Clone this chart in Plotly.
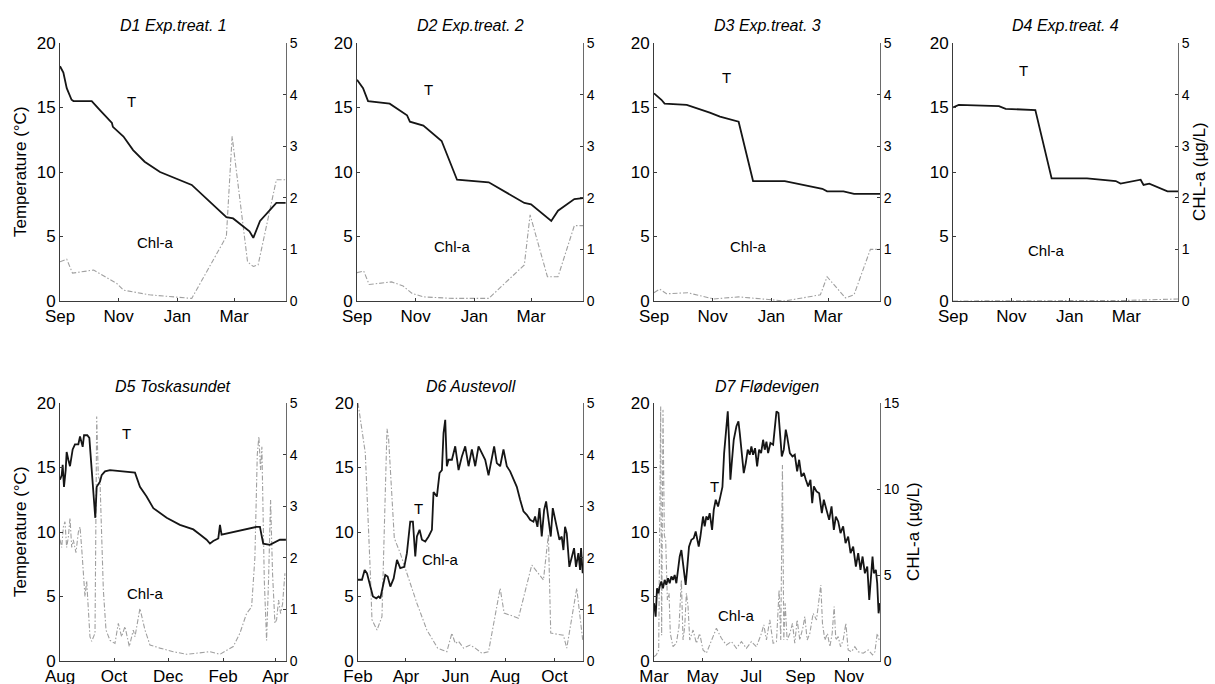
import pandas as pd
import plotly.graph_objects as go

FONT = "Liberation Sans, Arial, sans-serif"

# ---------------- panel metadata ----------------
panel_titles = ["D1 Exp.treat. 1", "D2 Exp.treat. 2", "D3 Exp.treat. 3", "D4 Exp.treat. 4",
                "D5 Toskasundet", "D6 Austevoll", "D7 Flødevigen"]
panel_starts = ["2010-09-01", "2010-09-01", "2010-09-01", "2010-09-01",
                "2010-08-01", "2011-02-01", "2011-03-01"]
panel_spans = [235, 235, 235, 235, 255, 277, 284]          # days shown on x axis
chl_max = [5, 5, 5, 5, 5, 5, 15]
temp_ticks = [0, 5, 10, 15, 20]
label_T_pos = [(74, 15.5), (74, 16.4), (75, 17.3), (74, 17.85), (75, 17.6), (75, 11.85), (76, 13.5)]
label_C_pos = [(99, 4.5), (99, 4.2), (98, 4.2), (98, 3.9), (96, 5.25), (101, 7.9), (104, 3.5)]

# ---------------- data (day offset from panel start, value) ----------------
d1_t_day = [0, 3.5, 7, 12, 14, 33, 41.5, 52, 54, 55, 66, 76, 88, 104, 137, 173, 180, 197, 201, 208, 225, 234.6]
d1_t_val = [18.2, 17.7, 16.5, 15.6, 15.5, 15.5, 14.8, 14.0, 13.8, 13.5, 12.75, 11.7, 10.8, 10.0, 9.0, 6.5, 6.4, 5.4, 4.9, 6.2, 7.6, 7.6]
d1_chl_day = [0, 7, 13, 35, 59, 66, 93, 137, 173, 179, 195, 201, 206, 225, 234.6]
d1_chl_val = [0.76, 0.81, 0.54, 0.60, 0.34, 0.21, 0.12, 0.05, 1.25, 3.19, 0.76, 0.67, 0.70, 2.35, 2.35]

d2_t_day = [0, 6.3, 11.5, 34, 52, 55, 69, 88, 104, 137, 174, 181, 202, 209, 226, 237]
d2_t_val = [17.15, 16.5, 15.5, 15.3, 14.4, 13.9, 13.6, 12.4, 9.4, 9.2, 7.6, 7.5, 6.2, 7.0, 7.9, 8.0]
d2_chl_day = [0, 7, 12.6, 36, 48, 57, 69, 100, 137, 174, 180, 198, 209, 226, 237]
d2_chl_val = [0.55, 0.58, 0.32, 0.37, 0.29, 0.15, 0.08, 0.05, 0.05, 0.70, 1.67, 0.47, 0.47, 1.46, 1.46]

d3_t_day = [0, 7.7, 11, 34, 58, 68.6, 88, 103, 136, 175, 180, 197, 208, 235.6]
d3_t_val = [16.1, 15.6, 15.3, 15.2, 14.6, 14.3, 13.9, 9.3, 9.3, 8.7, 8.5, 8.5, 8.3, 8.3]
d3_chl_day = [0, 6, 13, 35, 62, 88, 125, 136, 173, 180, 199, 208, 225, 235.6]
d3_chl_val = [0.16, 0.23, 0.14, 0.16, 0.04, 0.08, 0.02, 0.0, 0.12, 0.47, 0.06, 0.12, 1.0, 1.0]

d4_t_day = [0, 6, 48, 55, 86, 103, 140, 170, 175, 190, 196, 199, 205, 224, 236]
d4_t_val = [15.0, 15.2, 15.1, 14.9, 14.8, 9.5, 9.5, 9.3, 9.1, 9.3, 9.4, 9.0, 9.1, 8.5, 8.5]
d4_chl_day = [0, 180, 236]
d4_chl_val = [0.0, 0.01, 0.04]

d5_t_day = [0, 1.9, 3.0, 4.5, 6.4, 7.5, 9.4, 11.3, 14.3, 16.9, 20.7, 22.6, 25.6, 27.1, 30.8, 33.1, 34.6,
            36.8, 38.3, 39.8, 41.4, 45.1, 47.0, 50.8, 56.4, 67.7, 84.6, 90.2, 97.7, 105.3, 112.8, 120.3,
            135.3, 142.9, 150.4, 157.9, 165.4, 169.2, 172.9, 178.6, 180.5, 182.3, 195.5, 210.5, 214.3,
            221.8, 225.6, 229.3, 236.8, 248.1, 254.9]
d5_t_val = [14.05, 14.4, 15.2, 13.5, 14.8, 16.2, 15.6, 15.1, 16.4, 16.8, 16.8, 17.4, 16.6, 17.5, 17.5, 17.3,
            15.9, 13.5, 12.2, 11.1, 13.5, 13.9, 14.4, 14.7, 14.8, 14.7, 14.6, 13.5, 12.75, 11.85, 11.5, 11.1,
            10.55, 10.4, 10.2, 9.8, 9.4, 9.1, 9.3, 9.5, 10.55, 9.8, 10.0, 10.2, 10.3, 10.4, 10.4, 9.1, 9.0,
            9.4, 9.4]
d5_chl_day = [0, 1.9, 3.8, 5.6, 7.5, 9.4, 11.3, 13.2, 15.0, 18.0, 20.7, 22.6, 24.4, 26.3, 28.2, 30.1, 32.0,
              33.8, 35.7, 37.6, 39.5, 41.4, 43.2, 45.1, 47.0, 48.9, 51.9, 56.4, 62.0, 65.8, 69.5, 73.3, 78.2,
              82.7, 84.6, 90.2, 95.9, 101.5, 112.8, 127.8, 142.9, 157.9, 169.2, 180.5, 195.5, 203.0, 210.5,
              216.2, 219.9, 222.6, 224.4, 226.3, 227.8, 230.5, 233.1, 235.3, 237.6, 239.8, 242.5, 244.4,
              246.6, 248.9, 251.1, 253.8]
d5_chl_val = [2.35, 2.2, 2.6, 2.7, 2.2, 2.4, 2.77, 2.2, 2.35, 2.1, 2.5, 2.6, 2.2, 1.7, 1.25, 1.55, 1.05,
              0.47, 0.38, 0.47, 0.54, 4.74, 3.58, 3.5, 2.6, 1.38, 0.6, 0.4, 0.34, 0.73, 0.47, 0.67, 0.28,
              0.6, 0.47, 1.02, 0.6, 0.31, 0.25, 0.18, 0.13, 0.16, 0.18, 0.13, 0.28, 0.54, 0.92, 1.05, 2.0,
              4.0, 4.35, 3.7, 4.15, 1.57, 0.4, 1.57, 3.12, 1.7, 0.73, 0.8, 1.18, 0.92, 1.1, 1.7]

d6_t_day = [0, 4.9, 8.2, 11.1, 15.2, 18.4, 22.5, 25.4, 27.5, 29.5, 33.6, 36.5, 39.8, 43.9, 48.0, 52.0, 57.0,
            60.2, 64.3, 67.6, 70.5, 72.5, 75.8, 78.7, 82.8, 86.9, 91.0, 93.0, 97.1, 100.4, 103.3, 105.3,
            107.4, 109.4, 111.5, 115.6, 119.7, 123.8, 127.9, 132.0, 136.1, 140.2, 144.3, 148.4, 152.5,
            156.6, 160.7, 164.8, 167.6, 170.9, 175.0, 179.1, 183.2, 187.3, 191.4, 195.5, 199.6, 203.7,
            207.8, 211.9, 216.0, 218.0, 220.9, 223.4, 226.2, 229.1, 231.6, 234.4, 237.3, 239.8, 242.6,
            244.7, 248.0, 250.8, 252.9, 254.9, 257.0, 260.2, 263.1, 266.0, 268.4, 271.3, 273.4, 274.6, 276.6]
d6_t_val = [6.3, 6.3, 7.06, 6.8, 5.77, 5.0, 4.86, 5.0, 4.86, 5.5, 6.67, 6.55, 5.77, 6.4, 7.84, 7.2, 7.3,
            8.36, 10.8, 10.8, 8.1, 9.65, 10.17, 9.4, 9.26, 9.65, 10.17, 13.1, 12.75, 14.57, 14.8, 17.67,
            18.7, 15.1, 15.6, 15.6, 16.64, 14.8, 15.86, 16.64, 15.1, 16.4, 15.1, 16.64, 16.1, 15.6, 14.4,
            15.6, 16.64, 15.34, 15.1, 16.4, 15.1, 14.7, 14.05, 13.5, 12.5, 11.6, 11.33, 10.94, 10.8, 11.2,
            10.4, 11.85, 9.65, 11.7, 12.37, 10.94, 9.65, 11.85, 10.94, 10.17, 9.4, 9.65, 8.6, 10.4, 9.9,
            7.3, 8.1, 8.75, 7.3, 8.36, 7.06, 8.75, 6.8]
d6_chl_day = [0, 9.0, 15.2, 17.2, 23.4, 29.5, 35.7, 37.7, 44.7, 52.0, 60.2, 72.5, 84.8, 98.0, 104.5, 109.4,
              115.6, 119.7, 123.8, 129.9, 138.1, 144.3, 152.5, 160.7, 175.0, 179.9, 197.5, 213.9, 228.3,
              234.4, 237.3, 252.9, 257.0, 269.3, 276.6]
d6_chl_val = [5.0, 4.03, 1.7, 0.8, 0.6, 0.86, 4.5, 4.3, 2.38, 2.09, 1.7, 1.12, 0.6, 0.25, 0.21, 0.18, 0.54,
              0.34, 0.38, 0.25, 0.31, 0.25, 0.15, 0.18, 1.41, 0.93, 0.83, 1.86, 1.57, 2.45, 0.54, 0.5, 0.25,
              1.41, 0.41]

d7_t_day = [0, 2.1, 3.8, 5.5, 7.1, 9.2, 11.3, 13.4, 15.5, 17.6, 19.7, 21.8, 23.9, 26.0, 28.1, 30.2, 32.3,
            34.4, 36.5, 38.6, 39.8, 41.9, 44.0, 47.0, 49.9, 52.4, 54.5, 56.2, 58.3, 61.6, 63.7, 65.8, 67.9,
            70.0, 73.0, 75.1, 77.6, 80.5, 83.4, 86.0, 88.1, 91.0, 92.7, 94.3, 96.0, 97.7, 100.2, 103.6,
            106.1, 107.8, 110.3, 112.8, 115.3, 117.8, 120.3, 122.4, 124.5, 127.0, 129.6, 132.1, 134.6,
            137.1, 139.2, 141.3, 143.4, 146.3, 149.7, 151.8, 153.9, 156.4, 158.5, 160.6, 163.1, 165.6,
            167.3, 170.7, 174.0, 176.9, 179.9, 182.4, 185.3, 188.3, 190.8, 193.7, 196.6, 198.8, 200.9,
            204.2, 207.6, 210.9, 213.4, 216.8, 220.1, 223.1, 226.0, 228.5, 231.5, 234.4, 237.7, 240.7,
            244.0, 247.0, 250.3, 253.7, 256.6, 259.5, 262.1, 265.0, 268.0, 270.5, 272.1, 274.6, 276.3,
            278.8, 280.5, 282.2, 283.9]
d7_t_val = [4.48, 3.44, 5.64, 5.25, 5.77, 6.16, 5.64, 6.29, 5.9, 6.42,
            6.03, 6.55, 6.29, 6.67, 6.03, 7.32, 8.1, 8.6, 7.58, 6.8,
            5.9, 7.32, 8.87, 9.4, 9.52, 10.04, 9.4, 8.87, 9.65, 11.2,
            10.43, 11.2, 10.94, 11.46, 10.17, 11.72, 12.5, 11.98, 12.76, 13.5,
            16.1, 18.2, 19.35, 17.15, 14.05, 15.34, 17.15, 18.2, 18.58, 17.67,
            15.86, 14.57, 15.34, 16.38, 15.99, 16.64, 15.99, 16.5, 15.08, 16.38,
            16.12, 17.15, 16.38, 17.0, 16.12, 16.9, 16.77, 17.93, 19.35, 19.22,
            17.67, 15.86, 16.38, 17.93, 17.41, 16.12, 15.86, 15.99, 14.7, 15.6,
            14.3, 14.57, 14.05, 13.53, 14.05, 12.24, 13.53, 13.14, 13.0, 11.46,
            12.5, 11.72, 10.94, 11.98, 10.17, 11.2, 10.82, 9.91, 10.43, 9.13,
            9.65, 8.36, 8.87, 7.32, 8.36, 7.06, 8.1, 6.8, 7.32, 4.74,
            6.29, 8.1, 6.8, 7.06, 6.03, 3.7, 4.48]
d7_chl_day = [0, 2.9, 5.9, 8.4, 9.6, 11.3, 13.0, 14.7, 16.8, 18.9,
              20.5, 23.9, 28.1, 31.4, 34.4, 36.5, 38.6, 40.7, 42.8, 44.9,
              49.1, 53.3, 57.4, 61.6, 65.8, 72.1, 78.4, 84.7, 91.0, 97.3,
              103.6, 109.9, 116.1, 122.4, 128.7, 135.0, 138.0, 141.3, 145.5, 149.7,
              153.9, 157.2, 159.3, 161.4, 163.1, 164.8, 167.3, 170.7, 174.0, 176.9,
              179.9, 183.2, 187.4, 189.5, 192.5, 195.8, 200.0, 204.2, 207.1, 209.6,
              211.7, 214.7, 218.0, 221.0, 223.9, 226.4, 228.5, 231.5, 234.4, 237.7,
              241.1, 244.0, 248.2, 252.4, 256.6, 262.9, 269.2, 274.6, 277.6, 280.5, 283.0]
d7_chl_val = [0.25, 0.35, 0.64, 14.8, 1.5, 14.6, 7.3, 7.0, 3.55, 3.94,
              1.6, 0.83, 1.03, 2.0, 4.7, 1.22, 2.0, 3.94, 3.16, 1.22,
              1.8, 1.03, 1.6, 0.64, 0.45, 1.22, 1.9, 1.32, 0.93, 1.13,
              0.74, 1.13, 0.74, 1.13, 0.83, 1.6, 2.1, 1.22, 2.39, 1.03,
              1.13, 4.13, 1.22, 11.4, 1.22, 3.36, 1.22, 1.6, 2.19, 1.03,
              2.39, 1.22, 2.0, 2.58, 1.22, 1.6, 2.77, 2.39, 3.36, 4.42,
              2.19, 1.22, 1.6, 0.83, 1.6, 3.16, 1.22, 1.42, 0.83, 1.22,
              2.19, 0.64, 0.54, 0.83, 0.54, 0.45, 0.64, 0.35, 0.54, 1.6, 1.22]

temp_days = [d1_t_day, d2_t_day, d3_t_day, d4_t_day, d5_t_day, d6_t_day, d7_t_day]
temp_vals = [d1_t_val, d2_t_val, d3_t_val, d4_t_val, d5_t_val, d6_t_val, d7_t_val]
chl_days = [d1_chl_day, d2_chl_day, d3_chl_day, d4_chl_day, d5_chl_day, d6_chl_day, d7_chl_day]
chl_vals = [d1_chl_val, d2_chl_val, d3_chl_val, d4_chl_val, d5_chl_val, d6_chl_val, d7_chl_val]

# ---------------- layout geometry ----------------
W, H = 1215, 684
x_px = [(60, 286), (357, 583), (654, 880), (953, 1178), (60, 286), (358, 583), (654, 880)]
y_px = [(43, 301)] * 4 + [(403, 661)] * 3


def dates(start, days):
    return pd.Timestamp(start) + pd.to_timedelta(days, unit="D")


AX_COLOR = "#3a3a3a"
fig = go.Figure()
layout = {}
annotations = []

for i in range(7):
    n = i + 1
    nr = n + 7
    xname = "x" if n == 1 else f"x{n}"
    ychl = "y" if n == 1 else f"y{n}"
    ytmp = f"y{nr}"
    start = panel_starts[i]
    xd = [x_px[i][0] / W, x_px[i][1] / W]
    yd = [1 - y_px[i][1] / H, 1 - y_px[i][0] / H]

    fig.add_trace(go.Scatter(
        x=dates(start, chl_days[i]), y=chl_vals[i], xaxis=xname, yaxis=ychl, mode="lines",
        line=dict(color="#a0a0a0", width=1.1, dash="5px,2px,1.5px,2px"), showlegend=False))
    fig.add_trace(go.Scatter(
        x=dates(start, temp_days[i]), y=temp_vals[i], xaxis=xname, yaxis=ytmp, mode="lines",
        line=dict(color="#151515", width=1.8), showlegend=False))

    x_end = pd.Timestamp(start) + pd.Timedelta(days=panel_spans[i])
    layout["xaxis" if n == 1 else f"xaxis{n}"] = dict(
        domain=xd, anchor=ychl, range=[pd.Timestamp(start), x_end], type="date",
        tick0=start, dtick="M2", tickformat="%b", ticks="inside", ticklen=3,
        tickcolor=AX_COLOR, showline=True, linecolor=AX_COLOR, linewidth=1,
        showgrid=False, zeroline=False, automargin=False,
        tickfont=dict(family=FONT, size=17, color="black"))
    layout["yaxis" if n == 1 else f"yaxis{n}"] = dict(
        domain=yd, anchor=xname, side="right", range=[0, chl_max[i]],
        dtick=1 if chl_max[i] == 5 else 5, ticks="inside", ticklen=3, tickcolor=AX_COLOR,
        showline=True, linecolor="#6a6a6a", linewidth=1, showgrid=False, zeroline=False,
        automargin=False, tickfont=dict(family=FONT, size=14, color="black"))
    layout[f"yaxis{nr}"] = dict(
        overlaying=ychl, anchor=xname, side="left", range=[0, 20], tickvals=temp_ticks,
        ticks="inside", ticklen=3, tickcolor=AX_COLOR, showline=True, linecolor=AX_COLOR,
        linewidth=1, showgrid=False, zeroline=False, automargin=False,
        tickfont=dict(family=FONT, size=17, color="black"))

    # panel title
    annotations.append(dict(
        text=f"<i>{panel_titles[i]}</i>", xref="paper", yref="paper",
        x=(xd[0] + xd[1]) / 2, y=yd[1] + 17 / H, xanchor="center", yanchor="middle",
        showarrow=False, font=dict(family=FONT, size=16, color="black")))
    # line labels
    tx, ty = label_T_pos[i]
    cx, cy = label_C_pos[i]
    annotations.append(dict(text="T", xref=xname, yref=ytmp, x=dates(start, tx), y=ty,
                            showarrow=False, font=dict(family=FONT, size=15, color="black")))
    annotations.append(dict(text="Chl-a", xref=xname, yref=ytmp, x=dates(start, cx), y=cy,
                            showarrow=False, font=dict(family=FONT, size=15, color="black")))

# axis titles
for yc in (172, 532):
    annotations.append(dict(text="Temperature (°C)", xref="paper", yref="paper", x=20 / W,
                            y=1 - yc / H, textangle=-90, showarrow=False, xanchor="center",
                            yanchor="middle", font=dict(family=FONT, size=17, color="black")))
for xc, yc in ((1199, 172), (913, 532)):
    annotations.append(dict(text="CHL-a (µg/L)", xref="paper", yref="paper", x=xc / W,
                            y=1 - yc / H, textangle=-90, showarrow=False, xanchor="center",
                            yanchor="middle", font=dict(family=FONT, size=17, color="black")))

fig.update_layout(**layout)
fig.update_layout(
    width=W, height=H, autosize=False,
    margin=dict(l=0, r=0, t=0, b=0, pad=0, autoexpand=False),
    paper_bgcolor="white", plot_bgcolor="white", annotations=annotations,
    font=dict(family=FONT, color="black"), showlegend=False)

fig.write_html("out.html", config={"displayModeBar": False},
               post_script="document.body.style.margin='0';document.body.style.overflow='hidden';")
